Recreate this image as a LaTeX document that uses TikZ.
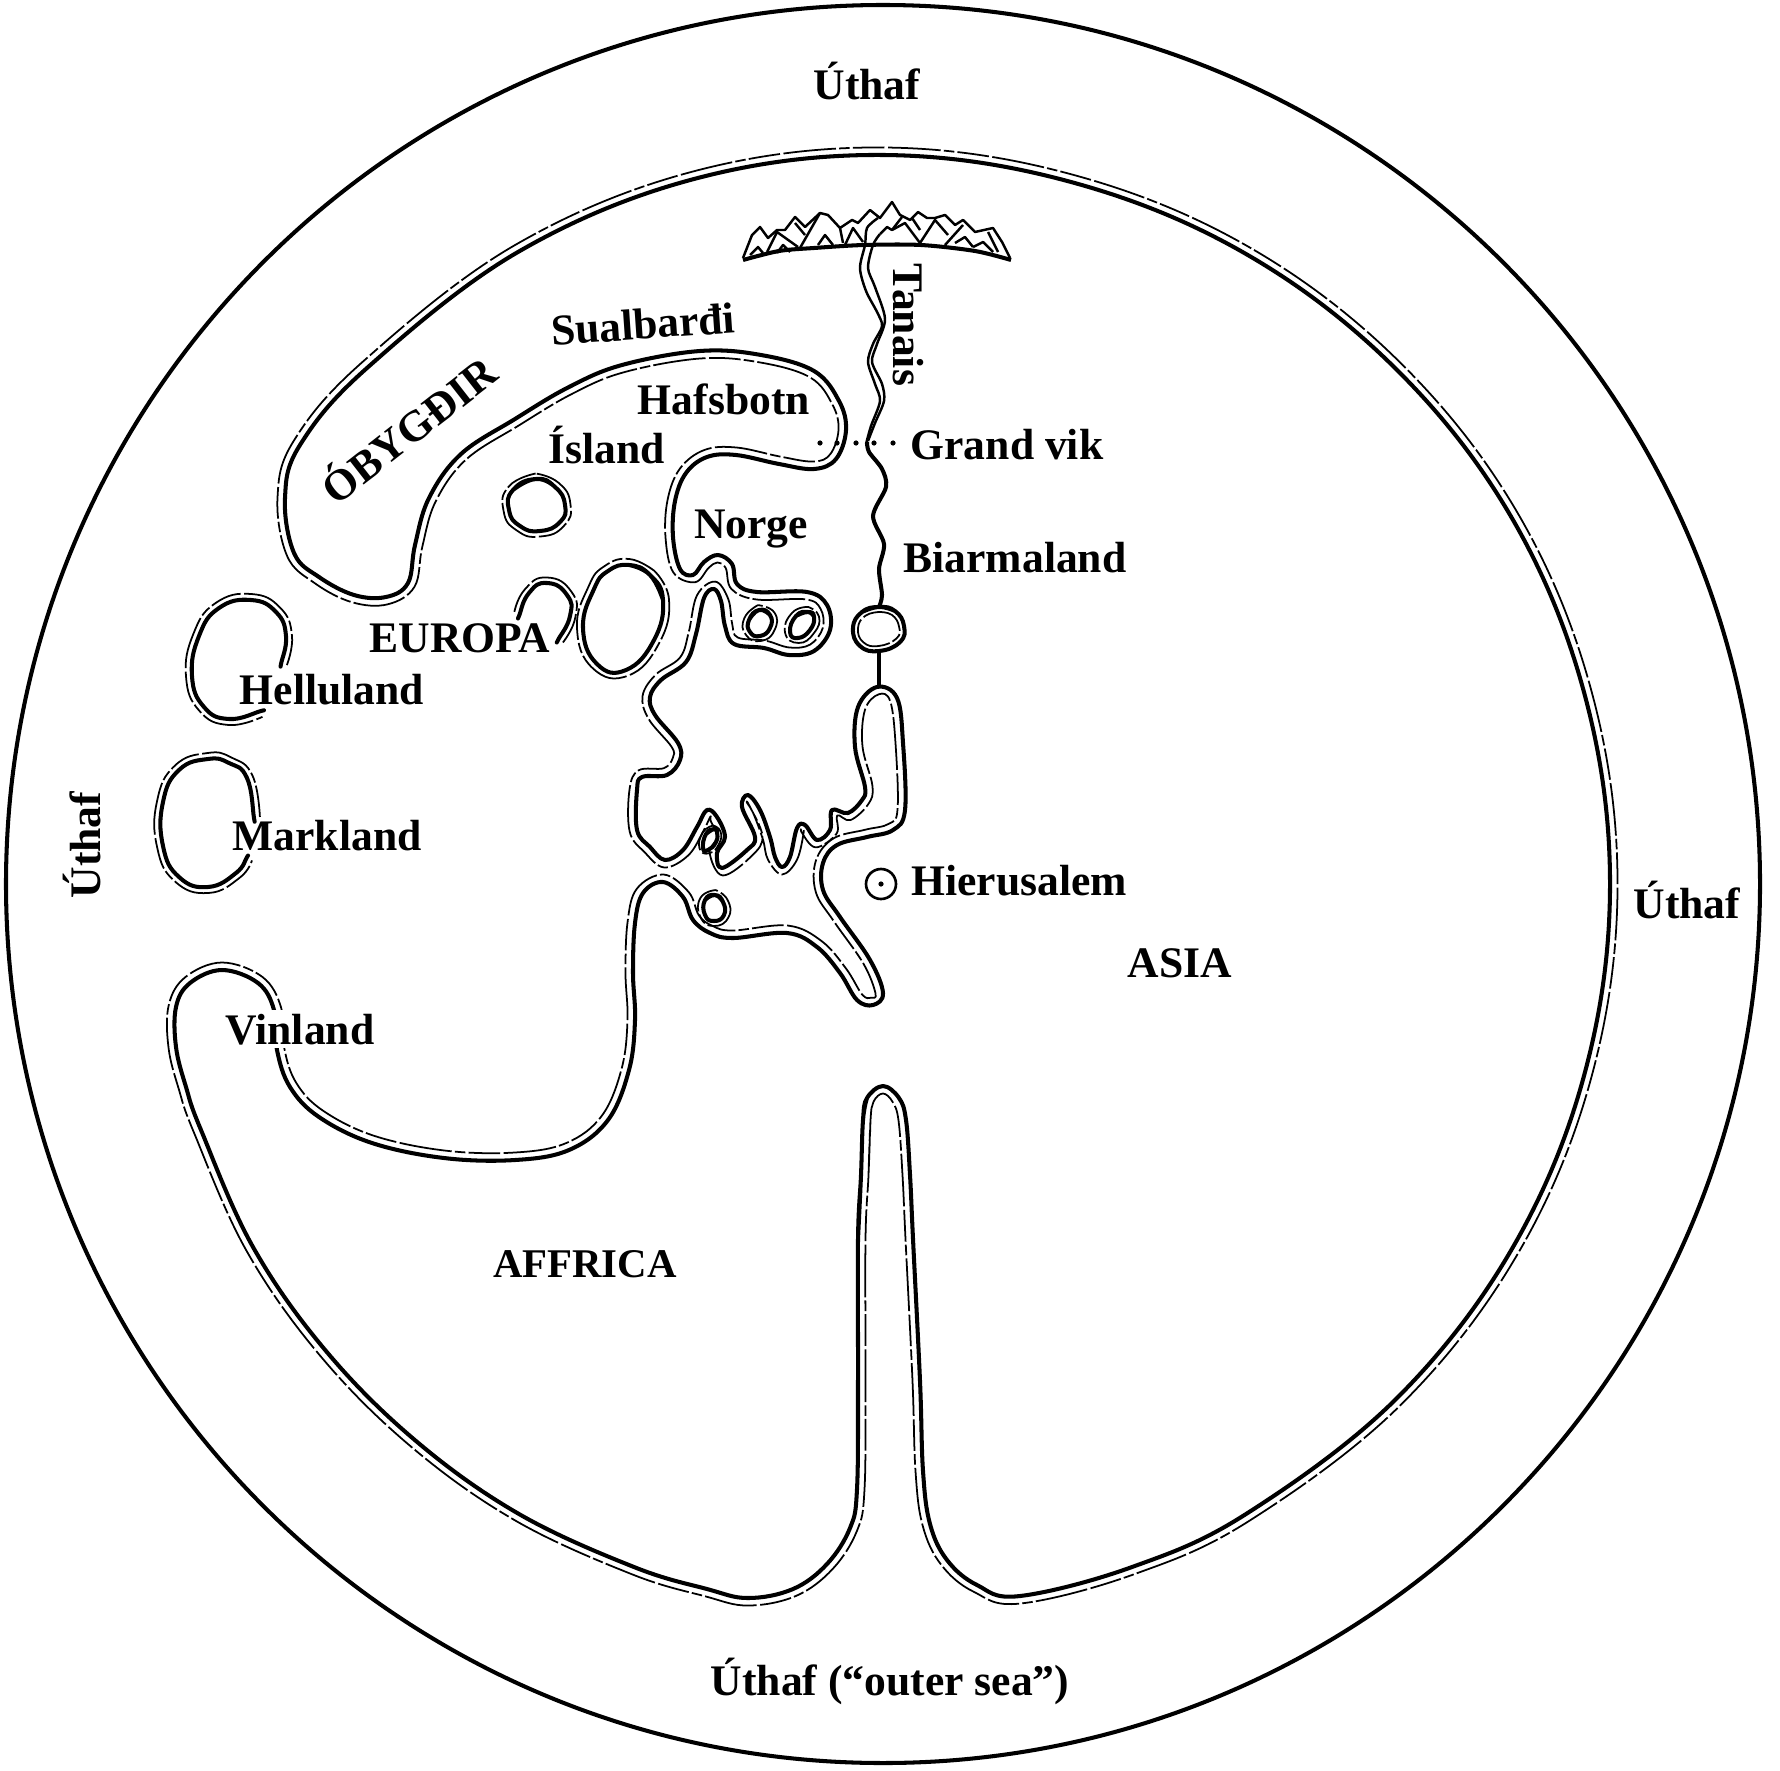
\documentclass[tikz,border=0pt]{standalone}
\usepackage{fontspec}
\setmainfont{Liberation Serif}
\tikzset{
  land/.style={line width=1.15pt,line join=round},
  sea/.style={line width=.5pt,line join=round,dash pattern=on 9pt off .9pt on 3pt off .9pt on 15pt off 1pt},
  river/.style={line width=.7pt,line join=round},
  peak/.style={line width=.7pt,line join=round},
  place/.style={font=\fontsize{12.4}{14}\selectfont\bfseries,inner sep=0pt,anchor=base},
}
% thick line through the points, thin broken line beside it on the water side
\newcommand\coast[3][7.5]{%
  \gdef\landpts{}\gdef\seapts{}\gdef\cxa{0}\gdef\cya{0}\gdef\cxb{0}\gdef\cyb{0}%
  \foreach \px/\py [count=\pn] in {#3}{%
    \xdef\landpts{\landpts(\px,\py) }%
    \ifnum\pn>2
      \pgfmathsetmacro\ctx{\px-\cxa}%
      \pgfmathsetmacro\cty{\py-\cya}%
      \pgfmathsetmacro\clen{veclen(\ctx,\cty)}%
      \pgfmathsetmacro\csx{\cxb-#1*\cty/\clen}%
      \pgfmathsetmacro\csy{\cyb+#1*\ctx/\clen}%
      \xdef\seapts{\seapts(\csx,\csy) }%
    \fi
    \xdef\cxa{\cxb}\xdef\cya{\cyb}\xdef\cxb{\px}\xdef\cyb{\py}%
  }%
  \edef\landcmd{\noexpand\draw[land] plot[smooth,tension=#2] coordinates {\landpts};}\landcmd
  \edef\seacmd{\noexpand\draw[sea] plot[smooth,tension=#2] coordinates {\seapts};}\seacmd
}
\begin{document}
\begin{tikzpicture}[x=.01cm,y=-.01cm]
\useasboundingbox (0,0) rectangle (1780,1770);
% Outer sea:
\draw[line width=1.15pt] (883,884) ellipse (877 and 879);
% The one coast, wedge top first, then round the ring:
\coast{.62}{858/1239, 861/1175, 863/1120, 867/1098, 883/1086, 899/1098, 906/1120, 910/1175, 913/1239, 920/1381, 923/1471, 930/1524, 947/1560, 977/1585, 1020/1596,
  1132/1567, 1246/1514, 1397/1398, 1513/1247, 1585/1072, 1610/884, 1585/696, 1513/520, 1397/370, 1246/254,
  1071/182, 883/155, 694/179, 518/252, 367/368, 300/445, 285/498, 294/553,
  319/577, 354/595, 386/597, 408/583, 415/545, 429/498, 461/454, 515/419, 569/387, 622/365,
  700/351, 761/355, 814/371, 839/401, 846/430, 836/459, 814/469, 779/464, 736/455, 707/457,
  686/473, 675/501, 673/537, 680/569, 693/575, 704/562, 718/555, 732/564, 737/584, 757/592,
  807/592, 827/605, 830/630, 814/651, 789/655, 764/648, 734/644, 725/626, 721/601, 714/589,
  704/598, 696/634, 686/662, 661/680, 650/697, 655/715, 678/743, 680/760, 667/775, 642/777,
  637/790, 637/830, 650/847, 665/860, 683/850, 697/827, 707/810, 717/817, 725/837, 717/853,
  722/868, 747/850, 755/837, 742/807, 748/795, 760/810, 770/837, 775/857, 782/867, 790/857,
  797/828, 805/825, 817/840, 830/830, 832/810, 848/813, 862/800, 865/787, 855/747, 858/707,
  877/687, 897/698, 903/743, 905/810, 893/830, 867/837, 837/845, 823/863, 823/890, 840/917,
  870/960, 883/993, 873/1005, 857/1000, 840/973, 817/947, 787/933, 733/938, 710/933, 693/920,
  683/897, 663/882, 643/893, 635/923, 633/973, 635/1020, 629/1070, 608/1120, 569/1150, 515/1160,
  444/1158, 372/1143, 319/1117, 290/1087, 277/1050, 274/1010, 258/983, 222/970, 190/983, 176/1007,
  176/1047, 186/1087, 201/1130, 253/1247, 326/1351, 416/1441, 519/1514, 634/1567, 707/1589, 748/1598,
  793/1589, 827/1564, 850/1528, 857/1489, 858/1381, 858/1239, 861/1175, 863/1120, 867/1098}
% Islands:
\coast[5.5]{.9}{555/487, 536/479, 513/490, 509/510, 520/526, 540/531, 560/522, 565/505, 555/487, 536/479, 513/490}
\coast[6]{.8}{663/600, 650/575, 629/565, 608/571, 594/589, 583/628, 597/664, 626/670, 654/640, 663/600, 650/575, 629/565}
\coast[5.5]{.9}{558/640, 558/640, 570/616, 567/595, 547/583, 529/593, 519/616, 519/616}
\coast[6]{.8}{281/664, 281/664, 286/636, 276/612, 251/600, 219/608, 199/636, 192/676, 204/707, 229/719, 261/711, 261/711}
\coast[6]{.8}{254/818, 254/818, 247/778, 229/763, 208/759, 179/770, 163/802, 163/846, 179/877, 208/887, 236/873, 247/857, 247/857}
\coast[5]{.9}{770/615, 759/610, 749/620, 750/632, 760/636, 770/628, 770/615, 759/610, 749/620}
\coast[5]{.9}{814/617, 808/612, 796/616, 790/632, 798/638, 810/630, 814/617, 808/612, 796/616}
\coast[3.5]{.9}{717/832, 714/829, 706/834, 703/848, 708/850, 716/842, 717/832, 714/829, 706/834}
\coast[5]{.9}{723/902, 715/895, 705/900, 705/915, 714/921, 724/915, 723/902, 715/895, 705/900}
% Lake:
\coast[5]{.8}{862/612, 879/607, 895/611, 904/626, 900/642, 879/651, 860/646, 853/628, 862/612, 879/607, 895/611}
\draw[line width=1.15pt] (879,651) -- (879,687);
% Mountains:
\draw[peak] (743,258) -- (752,235) -- (760,227) -- (768,238) -- (777,230) -- (785,230) -- (795,217) -- (805,227) -- (820,213) -- (828,215) -- (840,228)
  -- (852,220) -- (858,223) -- (870,210) -- (880,218) -- (892,202) -- (900,215) -- (910,220) -- (918,212) -- (927,218) -- (935,218) -- (945,215)
  -- (955,225) -- (963,220) -- (975,232) -- (993,228) -- (1002,242) -- (1010,258);
\draw[line width=1.15pt] plot[smooth] coordinates {(743,260) (779,251) (814,248) (864,245) (921,245) (975,251) (1011,260)};
\foreach \ridge in {{(750,255) -- (758,247) -- (763,253)},{(767,252) -- (777,232) -- (798,247)},{(777,253) -- (783,245) -- (790,252)},
  {(795,223) -- (805,235)},{(800,248) -- (820,213)},{(818,245) -- (825,235) -- (833,245)},{(840,228) -- (843,243)},
  {(845,245) -- (853,228) -- (863,242)},{(892,230) -- (905,223) -- (920,243)},{(912,218) -- (920,230)},
  {(920,243) -- (935,220) -- (948,235)},{(945,245) -- (963,225)},{(955,243) -- (965,237) -- (973,247)},
  {(973,247) -- (983,242) -- (993,252)},{(988,232) -- (998,252)}}
  \draw[peak] \ridge;
% Tanais:
\draw[river] plot[smooth] coordinates {(878,218) (867,228) (865,245) (860,268) (866,291) (877,312) (882,326) (873,344) (868,362) (875,384) (880,401) (871,426) (866,444)};
\draw[river] (902,217) -- (892,230) -- (887,227) -- (880,234);
\draw[river] plot[smooth] coordinates {(880,234) (873,245) (868,268) (875,287) (885,319) (877,344) (872,362) (882,384) (884,401) (875,423) (868,441)};
\draw[line width=1.15pt] plot[smooth] coordinates {(867,442) (869,452) (882,469) (886,487) (873,516) (884,544) (879,569) (882,595) (879,607)};
% Grand vik dots:
\foreach \dotx in {820,837,856,874,893}
  \fill (\dotx,443) circle (2.6);
% Hierusalem:
\draw[line width=.75pt] (881,884) circle (15);
\fill (881,884) circle (2.6);
% Names:
\node[place] (uthaftop) at (867,100) {Úthaf};
\node[place,rotate=-90] (tanais) at (893,325) {Tanais};
\node[place,rotate=4] (sualbardi) at (644,339) {Sualbarđi};
\node[place,rotate=38,anchor=center] (obygdir) at (407,428) {ÓBYGÐIR};
\node[place] (hafsbotn) at (724,414) {Hafsbotn};
\node[place] (island) at (607,463) {Ísland};
\node[place] (grandvik) at (1007,459) {Grand vik};
\node[place] (norge) at (751,538) {Norge};
\node[place] (biarmaland) at (1015,572) {Biarmaland};
\node[place] (europa) at (460,652) {EUROPA};
\node[place] (helluland) at (332,704) {Helluland};
\node[place] (markland) at (327,850) {Markland};
\node[place,fill=white,inner sep=1pt] (vinland) at (300,1044) {Vinland};
\node[place] (hierusalem) at (1019,895) {Hierusalem};
\node[place] (asia) at (1180,977) {ASIA};
\node[place,font=\fontsize{11.6}{14}\selectfont\bfseries] (affrica) at (585,1277) {AFFRICA};
\node[place] (uthafright) at (1687,918) {Úthaf};
\node[place,rotate=90] (uthafleft) at (100,845) {Úthaf};
\node[place] (uthafsea) at (890,1695) {Úthaf (“outer sea”)};
\end{tikzpicture}
\end{document}
